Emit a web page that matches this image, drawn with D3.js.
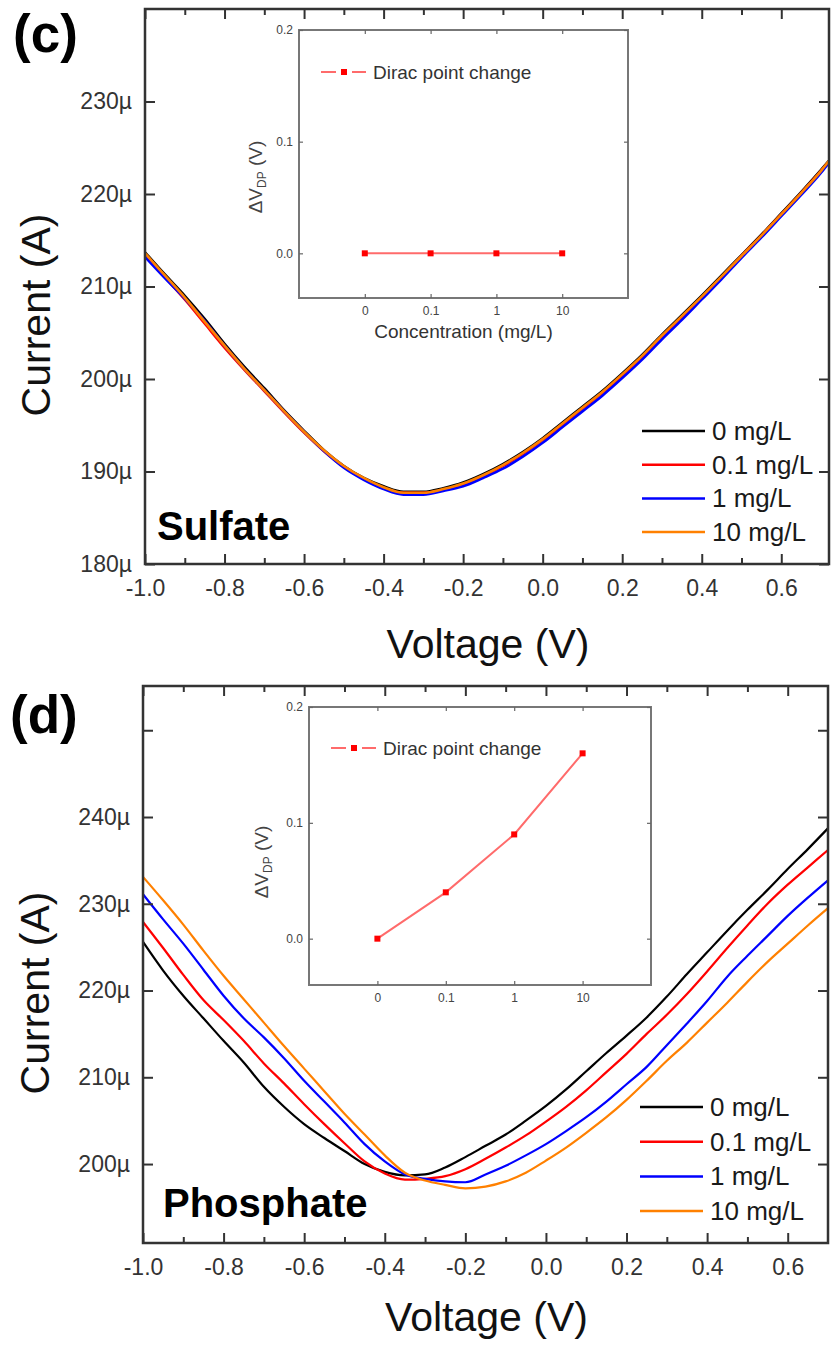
<!DOCTYPE html>
<html>
<head>
<meta charset="utf-8">
<script src="https://cdn.jsdelivr.net/npm/d3@7"></script>
<style>
  body { margin: 0; background: #fff; }
  svg { display: block; }
  text { font-family: "Liberation Sans", Arial, sans-serif; }
</style>
</head>
<body>
<svg id="fig" width="831" height="1347"></svg>
<script>
// ---- Transfer curves: gate voltage (V) vs drain current (µA) ----
const voltageSulfate = [-1.0,-0.95,-0.9,-0.85,-0.8,-0.75,-0.7,-0.65,-0.6,-0.55,-0.5,-0.45,-0.4,-0.35,-0.3,-0.25,-0.2,-0.15,-0.1,-0.05,0.0,0.05,0.1,0.15,0.2,0.25,0.3,0.35,0.4,0.45,0.5,0.55,0.6,0.65,0.7,0.72];
const voltagePhosphate = [-1.0,-0.95,-0.9,-0.85,-0.8,-0.75,-0.7,-0.65,-0.6,-0.55,-0.5,-0.45,-0.4,-0.35,-0.3,-0.25,-0.2,-0.15,-0.1,-0.05,0.0,0.05,0.1,0.15,0.2,0.25,0.3,0.35,0.4,0.45,0.5,0.55,0.6,0.65,0.7];

const seriesNames = ["0 mg/L", "0.1 mg/L", "1 mg/L", "10 mg/L"];
const seriesColors = ["#000000", "#ff0000", "#0000ff", "#ff8000"];

// Sulfate (panel c)
const sulfate0   = [213.7,211.3,209.0,206.5,203.8,201.3,199.0,196.6,194.4,192.3,190.6,189.3,188.4,187.8,187.8,188.2,188.8,189.7,190.8,192.1,193.6,195.3,197.0,198.7,200.6,202.6,204.8,206.9,209.0,211.2,213.4,215.6,217.9,220.2,222.6,223.6];
const sulfate01  = [213.4,211.0,208.6,206.0,203.4,201.0,198.7,196.4,194.2,192.2,190.5,189.2,188.2,187.7,187.7,188.0,188.6,189.5,190.6,191.9,193.4,195.1,196.8,198.5,200.4,202.4,204.6,206.7,208.8,211.0,213.3,215.5,217.8,220.1,222.5,223.5];
const sulfate1   = [213.2,210.9,208.7,206.3,203.6,201.1,198.8,196.5,194.3,192.2,190.4,189.1,188.1,187.5,187.5,187.9,188.4,189.3,190.3,191.6,193.1,194.8,196.5,198.2,200.1,202.1,204.3,206.4,208.6,210.8,213.1,215.3,217.6,219.9,222.3,223.4];
const sulfate10  = [213.6,211.2,208.8,206.2,203.6,201.1,198.8,196.5,194.3,192.3,190.6,189.3,188.3,187.7,187.7,188.1,188.7,189.6,190.7,192.0,193.5,195.2,196.9,198.6,200.5,202.5,204.7,206.8,208.9,211.1,213.3,215.5,217.8,220.1,222.5,223.6];

// Phosphate (panel d)
const phosphate0  = [225.6,222.3,219.4,216.8,214.2,211.7,208.9,206.6,204.6,203.0,201.5,200.0,199.1,198.7,198.8,199.6,200.8,202.1,203.4,205.0,206.7,208.6,210.7,212.8,214.8,216.9,219.3,221.9,224.4,226.9,229.3,231.6,234.0,236.3,238.7];
const phosphate01 = [227.9,224.9,221.8,218.9,216.6,214.2,211.6,209.3,206.9,204.6,202.4,200.3,198.9,198.2,198.3,198.6,199.4,200.6,201.9,203.3,204.9,206.6,208.5,210.6,212.7,215.0,217.2,219.6,222.2,224.9,227.5,230.0,232.2,234.2,236.2];
const phosphate1  = [231.1,228.2,225.4,222.4,219.4,216.8,214.6,212.2,209.6,207.2,204.8,202.3,200.3,198.8,198.3,198.0,197.9,198.8,199.8,201.0,202.3,203.8,205.4,207.2,209.2,211.2,213.7,216.2,218.8,221.6,224.0,226.3,228.6,230.7,232.7];
const phosphate10 = [233.1,230.4,227.6,224.6,221.7,219.0,216.3,213.6,211.0,208.4,205.8,203.4,201.0,199.0,198.1,197.6,197.2,197.4,198.0,199.0,200.4,201.9,203.6,205.4,207.4,209.6,211.9,214.0,216.3,218.6,221.0,223.3,225.4,227.5,229.5];

// Axis ticks
const voltageTicks = [-1.0,-0.8,-0.6,-0.4,-0.2,0.0,0.2,0.4,0.6];
const voltageMinorTicks = [-0.9,-0.7,-0.5,-0.3,-0.1,0.1,0.3,0.5];
const sulfateCurrentTicks = [180,190,200,210,220,230];
const sulfateCurrentLabels = [180,190,200,210,220,230];
const phosphateCurrentTicks = [200,210,220,230,240,250];
const phosphateCurrentLabels = [200,210,220,230,240];

// Inset: Dirac point shift vs concentration
const concentrationLabels = ["0", "0.1", "1", "10"];
const diracShiftSulfate = [0.0, 0.0, 0.0, 0.0];
const diracShiftPhosphate = [0.0, 0.04, 0.09, 0.16];
const diracShiftTicks = [0.0, 0.1, 0.2];

const svg = d3.select("#fig");
const FONT = '"Liberation Sans", Arial, sans-serif';

function styleAxis(sel, fontSize, color, tickColor, tickWidth) {
  sel.select(".domain").remove();
  sel.attr("font-family", FONT).attr("font-size", fontSize);
  sel.selectAll(".tick line").attr("stroke", tickColor).attr("stroke-width", tickWidth);
  sel.selectAll(".tick text").attr("fill", color);
}

function drawPanel(p) {
  const g = svg.append("g");
  const x = d3.scaleLinear().domain(p.xDomain).range([p.left, p.right]);
  const y = d3.scaleLinear().domain(p.yDomain).range([p.bottom, p.top]);

  // I-V curves
  p.series.forEach((s, k) => {
    const line = d3.line()
      .x((d, i) => x(p.volt[i]))
      .y(d => y(d))
      .curve(d3.curveMonotoneX);
    g.append("path")
      .attr("d", line(s))
      .attr("fill", "none")
      .attr("stroke", seriesColors[k])
      .attr("stroke-width", p.curveWidth)
      .attr("stroke-linejoin", "round");
  });

  const fmtV = d => d.toFixed(1);
  const tc = "#333";

  // bottom axis (labelled majors + minors)
  g.append("g").attr("transform", `translate(0,${p.bottom})`)
    .call(d3.axisBottom(x).tickValues(voltageTicks).tickFormat(fmtV).tickSize(-10).tickPadding(16))
    .call(s => styleAxis(s, 23, "#333", tc, 2));
  g.append("g").attr("transform", `translate(0,${p.bottom})`)
    .call(d3.axisBottom(x).tickValues(voltageMinorTicks).tickFormat("").tickSize(-6))
    .call(s => styleAxis(s, 23, "#333", tc, 2));
  // top axis
  g.append("g").attr("transform", `translate(0,${p.top})`)
    .call(d3.axisTop(x).tickValues(voltageTicks).tickFormat("").tickSize(-10))
    .call(s => styleAxis(s, 23, "#333", tc, 2));
  g.append("g").attr("transform", `translate(0,${p.top})`)
    .call(d3.axisTop(x).tickValues(voltageMinorTicks).tickFormat("").tickSize(-6))
    .call(s => styleAxis(s, 23, "#333", tc, 2));
  // left axis
  g.append("g").attr("transform", `translate(${p.left},0)`)
    .call(d3.axisLeft(y).tickValues(p.yTicks)
      .tickFormat(d => p.yLabels.includes(d) ? d + "µ" : "")
      .tickSize(-10).tickPadding(13))
    .call(s => styleAxis(s, 23, "#333", tc, 2));
  // right axis
  g.append("g").attr("transform", `translate(${p.right},0)`)
    .call(d3.axisRight(y).tickValues(p.yTicks).tickFormat("").tickSize(-10))
    .call(s => styleAxis(s, 23, "#333", tc, 2));

  // frame
  g.append("rect")
    .attr("x", p.left).attr("y", p.top)
    .attr("width", p.right - p.left).attr("height", p.bottom - p.top)
    .attr("fill", "none").attr("stroke", "#333").attr("stroke-width", 2.5);

  // axis titles
  g.append("text")
    .attr("x", (p.left + p.right) / 2 + 1).attr("y", p.xTitleY)
    .attr("text-anchor", "middle").attr("font-size", 41).attr("fill", "#111")
    .text("Voltage (V)");
  g.append("text")
    .attr("transform", `translate(${p.yTitleX},${p.yTitleCY}) rotate(-90)`)
    .attr("text-anchor", "middle").attr("font-size", 41).attr("fill", "#111")
    .text("Current (A)");

  // panel letter and analyte name
  g.append("text").attr("x", p.letterX).attr("y", p.letterY)
    .attr("font-size", 53).attr("font-weight", "bold").attr("fill", "#000")
    .text(p.letter);
  g.append("text").attr("x", p.nameX).attr("y", p.nameY)
    .attr("font-size", 40).attr("font-weight", "bold").attr("fill", "#000")
    .text(p.name);

  // legend
  seriesNames.forEach((nm, k) => {
    const ly = p.legendY + k * p.legendDy;
    g.append("line")
      .attr("x1", p.legendX).attr("x2", p.legendX + 63)
      .attr("y1", ly).attr("y2", ly)
      .attr("stroke", seriesColors[k]).attr("stroke-width", 2.5);
    g.append("text")
      .attr("x", p.legendX + 70).attr("y", ly + 9)
      .attr("font-size", 26).attr("fill", "#1a1a1a")
      .text(nm);
  });

  drawInset(p.inset);
}

function drawInset(q) {
  const g = svg.append("g");
  const x = d3.scaleLinear().domain([-1, 4]).range([q.left, q.right]);
  const y = d3.scaleLinear().domain([-0.04, 0.2]).range([q.bottom, q.top]);
  const gray = "#666";

  g.append("rect").attr("x", q.left).attr("y", q.top)
    .attr("width", q.right - q.left).attr("height", q.bottom - q.top)
    .attr("fill", "#fff").attr("stroke", "#777").attr("stroke-width", 2);

  const idx = concentrationLabels.map((d, i) => i);
  g.append("g").attr("transform", `translate(0,${q.bottom})`)
    .call(d3.axisBottom(x).tickValues(idx).tickFormat(i => concentrationLabels[i]).tickSize(-4).tickPadding(8))
    .call(s => styleAxis(s, 12, "#444", gray, 1.2));
  g.append("g").attr("transform", `translate(0,${q.top})`)
    .call(d3.axisTop(x).tickValues(idx).tickFormat("").tickSize(-4))
    .call(s => styleAxis(s, 12, "#444", gray, 1.2));
  g.append("g").attr("transform", `translate(${q.left},0)`)
    .call(d3.axisLeft(y).tickValues(diracShiftTicks).tickFormat(d3.format(".1f")).tickSize(-4).tickPadding(6))
    .call(s => styleAxis(s, 12, "#444", gray, 1.2));
  g.append("g").attr("transform", `translate(${q.right},0)`)
    .call(d3.axisRight(y).tickValues(diracShiftTicks).tickFormat("").tickSize(-4))
    .call(s => styleAxis(s, 12, "#444", gray, 1.2));

  // shift line + square markers
  const line = d3.line().x((d, i) => x(i)).y(d => y(d));
  g.append("path").attr("d", line(q.values))
    .attr("fill", "none").attr("stroke", "#ff6b6b").attr("stroke-width", 2);
  g.selectAll("rect.pt").data(q.values).join("rect")
    .attr("class", "pt")
    .attr("x", (d, i) => x(i) - 3).attr("y", d => y(d) - 3)
    .attr("width", 6).attr("height", 6).attr("fill", "#ff0000");

  // legend
  g.append("line").attr("x1", q.legX).attr("x2", q.legX + 15)
    .attr("y1", q.legY).attr("y2", q.legY).attr("stroke", "#ff6b6b").attr("stroke-width", 2);
  g.append("line").attr("x1", q.legX + 31).attr("x2", q.legX + 45)
    .attr("y1", q.legY).attr("y2", q.legY).attr("stroke", "#ff6b6b").attr("stroke-width", 2);
  g.append("rect").attr("x", q.legX + 20).attr("y", q.legY - 3)
    .attr("width", 6).attr("height", 6).attr("fill", "#ff0000");
  g.append("text").attr("x", q.legX + 52).attr("y", q.legY + 7)
    .attr("font-size", 19).attr("fill", "#333").text("Dirac point change");

  // y label ΔV_DP (V)
  const yl = g.append("text")
    .attr("transform", `translate(${q.yLabelX},${q.yLabelCY}) rotate(-90)`)
    .attr("text-anchor", "middle").attr("font-size", 19).attr("fill", "#444");
  yl.append("tspan").text("ΔV");
  yl.append("tspan").attr("font-size", 12).attr("dy", 4).text("DP");
  yl.append("tspan").attr("dy", -4).text(" (V)");

  if (q.xLabel) {
    g.append("text").attr("x", (q.left + q.right) / 2).attr("y", q.xLabelY)
      .attr("text-anchor", "middle").attr("font-size", 19).attr("fill", "#333")
      .text(q.xLabel);
  }
}

drawPanel({
  left: 145, right: 829, top: 9, bottom: 564,
  xDomain: [-1.0, 0.72], yDomain: [180, 240],
  yTicks: sulfateCurrentTicks, yLabels: sulfateCurrentLabels,
  volt: voltageSulfate,
  series: [sulfate0, sulfate01, sulfate1, sulfate10],
  curveWidth: 2.6,
  xTitleY: 658, yTitleX: 50, yTitleCY: 315,
  letter: "(c)", letterX: 13, letterY: 52,
  name: "Sulfate", nameX: 157, nameY: 540,
  legendX: 642, legendY: 431, legendDy: 33.7,
  inset: {
    left: 299, right: 628, top: 30, bottom: 298,
    values: diracShiftSulfate,
    legX: 321, legY: 72,
    yLabelX: 262, yLabelCY: 177,
    xLabel: "Concentration (mg/L)", xLabelY: 338
  }
});

drawPanel({
  left: 143, right: 828, top: 686, bottom: 1243,
  xDomain: [-1.0, 0.7], yDomain: [190.9, 255.1],
  yTicks: phosphateCurrentTicks, yLabels: phosphateCurrentLabels,
  volt: voltagePhosphate,
  series: [phosphate0, phosphate01, phosphate1, phosphate10],
  curveWidth: 2.2,
  xTitleY: 1331, yTitleX: 49, yTitleCY: 993,
  letter: "(d)", letterX: 10, letterY: 733,
  name: "Phosphate", nameX: 163, nameY: 1217,
  legendX: 640, legendY: 1107, legendDy: 34.7,
  inset: {
    left: 309, right: 651, top: 707, bottom: 985,
    values: diracShiftPhosphate,
    legX: 331, legY: 748,
    yLabelX: 268, yLabelCY: 862,
    xLabel: null
  }
});
</script>
</body>
</html>
